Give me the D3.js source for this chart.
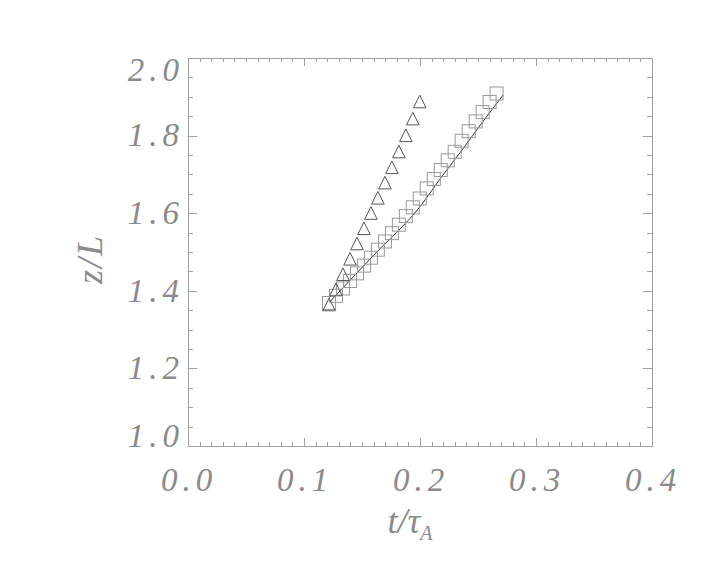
<!DOCTYPE html>
<meta charset="utf-8">
<style>
body { margin: 0; background: #fff; }
text { font-family: "Liberation Serif", "DejaVu Serif", serif; font-style: italic; fill: #8a8a8a; }
</style>
<body>
<div id="chart"></div>
</body>
<script src="https://cdn.jsdelivr.net/npm/d3@7"></script>
<script>

var width = 708, height = 566;
var margin = {top: 58, right: 56, bottom: 120, left: 188};

// tick labels
var xTicks = [0.0, 0.1, 0.2, 0.3, 0.4];
var yTicks = [1.0, 1.2, 1.4, 1.6, 1.8, 2.0];

// time samples (t / tau_A)
var tSquares = [0.1216, 0.1276, 0.1336, 0.1397, 0.1457, 0.1517, 0.1577, 0.1637, 0.1698,
  0.1758, 0.1818, 0.1878, 0.1938, 0.1998, 0.2058, 0.2119, 0.2179, 0.2239, 0.2299,
  0.2359, 0.2420, 0.2480, 0.2540, 0.2600, 0.2660];
var zSquares = [1.3686, 1.3871, 1.4060, 1.4253, 1.4449, 1.4649, 1.4853, 1.5060, 1.5271,
  1.5486, 1.5704, 1.5925, 1.6151, 1.6379, 1.6639, 1.6881, 1.7113, 1.7363, 1.7582,
  1.7866, 1.8113, 1.8366, 1.8606, 1.8866, 1.9085];

var tTriangles = [0.1216, 0.1276, 0.1336, 0.1397, 0.1457, 0.1517, 0.1577, 0.1637, 0.1698,
  0.1758, 0.1818, 0.1878, 0.1938, 0.1998];
var zTriangles = [1.3647, 1.4034, 1.4428, 1.4825, 1.5219, 1.5611, 1.6005, 1.6397, 1.6789,
  1.7183, 1.7590, 1.8008, 1.8438, 1.8879];

// solid curve
var tLine = [0.1224, 0.1595, 0.2000, 0.2187, 0.2373, 0.2532, 0.2718];
var zLine = [1.372, 1.490, 1.617, 1.694, 1.767, 1.832, 1.905];

var x = d3.scaleLinear([0, 0.4], [margin.left, width - margin.right]);
var y = d3.scaleLinear([1.0, 2.0], [height - margin.bottom, margin.top]);

var svg = d3.select("#chart").append("svg")
    .attr("width", width)
    .attr("height", height);

var axisColor = "#a0a0a0";
var plotW = x(0.4) - x(0), plotH = y(1.0) - y(2.0);
var xMajor = plotH * 0.02, yMajor = plotW * 0.02;

function styleAxis(g) {
  g.select(".domain").remove();
  g.selectAll("line").attr("stroke", axisColor).attr("shape-rendering", "crispEdges");
  g.selectAll("text").remove();
}

var xMinor = x.ticks(40), yMinor = y.ticks(20);

// bottom / top
svg.append("g").attr("transform", "translate(0," + y(1.0) + ")")
  .call(d3.axisBottom(x).tickValues(xMinor).tickSize(-xMajor / 2)).call(styleAxis);
svg.append("g").attr("transform", "translate(0," + y(1.0) + ")")
  .call(d3.axisBottom(x).tickValues(xTicks).tickSize(-xMajor)).call(styleAxis);
svg.append("g").attr("transform", "translate(0," + y(2.0) + ")")
  .call(d3.axisTop(x).tickValues(xMinor).tickSize(-xMajor / 2)).call(styleAxis);
svg.append("g").attr("transform", "translate(0," + y(2.0) + ")")
  .call(d3.axisTop(x).tickValues(xTicks).tickSize(-xMajor)).call(styleAxis);
// left / right
svg.append("g").attr("transform", "translate(" + x(0) + ",0)")
  .call(d3.axisLeft(y).tickValues(yMinor).tickSize(-yMajor / 2)).call(styleAxis);
svg.append("g").attr("transform", "translate(" + x(0) + ",0)")
  .call(d3.axisLeft(y).tickValues(yTicks).tickSize(-yMajor)).call(styleAxis);
svg.append("g").attr("transform", "translate(" + x(0.4) + ",0)")
  .call(d3.axisRight(y).tickValues(yMinor).tickSize(-yMajor / 2)).call(styleAxis);
svg.append("g").attr("transform", "translate(" + x(0.4) + ",0)")
  .call(d3.axisRight(y).tickValues(yTicks).tickSize(-yMajor)).call(styleAxis);

// frame
svg.append("rect")
  .attr("x", x(0) + 0.5).attr("y", y(2.0) + 0.5)
  .attr("width", plotW).attr("height", plotH)
  .attr("fill", "none").attr("stroke", axisColor)
  .attr("shape-rendering", "crispEdges");

var fmt = d3.format(".1f");

// x tick labels
svg.selectAll(".xlab")
  .data(xTicks)
  .join("text")
    .attr("x", d => x(d) + 1)
    .attr("y", y(1.0) + 45)
    .attr("text-anchor", "middle")
    .style("font-size", "33px")
    .style("letter-spacing", "5px")
    .text(d => fmt(d));

// y tick labels
svg.selectAll(".ylab")
  .data(yTicks)
  .join("text")
    .attr("x", x(0) - 4)
    .attr("y", d => Math.min(Math.max(y(d), y(2.0) + 12), y(1.0) - 10))
    .attr("dy", "0.33em")
    .attr("text-anchor", "end")
    .style("font-size", "33px")
    .style("letter-spacing", "5px")
    .text(d => fmt(d));

// axis titles
var xt = svg.append("text")
  .attr("x", 410).attr("y", 533)
  .attr("text-anchor", "middle")
  .style("font-size", "36px");
xt.append("tspan").text("t/τ");
xt.append("tspan").attr("dy", 7).style("font-size", "20px").text("A");

svg.append("text")
  .attr("transform", "translate(102,259) rotate(-90)")
  .attr("text-anchor", "middle")
  .style("font-size", "36px")
  .style("letter-spacing", "2px")
  .text("z/L");

// curve
svg.append("path")
  .datum(d3.zip(tLine, zLine))
  .attr("fill", "none")
  .attr("stroke", "#333")
  .attr("stroke-width", 1)
  .attr("d", d3.line().x(d => x(d[0])).y(d => y(d[1])).curve(d3.curveMonotoneX));

// squares
var s = 6.5;
svg.selectAll(".sq")
  .data(d3.zip(tSquares, zSquares))
  .join("rect")
    .attr("x", d => x(d[0]) - s)
    .attr("y", d => y(d[1]) - s)
    .attr("width", 2 * s).attr("height", 2 * s)
    .attr("fill", "none")
    .attr("stroke", "#999")
    .attr("stroke-width", 1);

// triangles
var h = 6.3;
svg.selectAll(".tri")
  .data(d3.zip(tTriangles, zTriangles))
  .join("path")
    .attr("d", d => {
      var cx = x(d[0]), cy = y(d[1]);
      return "M" + (cx - h) + "," + (cy + h) + "L" + cx + "," + (cy - h) + "L" + (cx + h) + "," + (cy + h) + "Z";
    })
    .attr("fill", "none")
    .attr("stroke", "#555")
    .attr("stroke-width", 1);

</script>
